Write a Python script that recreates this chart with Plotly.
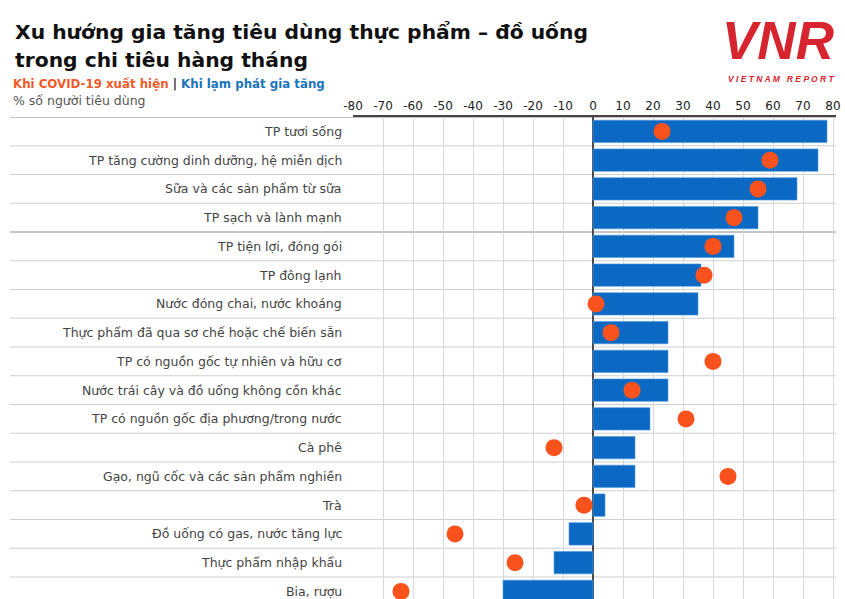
import plotly.graph_objects as go

categories = [
    "TP tươi sống",
    "TP tăng cường dinh dưỡng, hệ miễn dịch",
    "Sữa và các sản phẩm từ sữa",
    "TP sạch và lành mạnh",
    "TP tiện lợi, đóng gói",
    "TP đông lạnh",
    "Nước đóng chai, nước khoáng",
    "Thực phẩm đã qua sơ chế hoặc chế biến sẵn",
    "TP có nguồn gốc tự nhiên và hữu cơ",
    "Nước trái cây và đồ uống không cồn khác",
    "TP có nguồn gốc địa phương/trong nước",
    "Cà phê",
    "Gạo, ngũ cốc và các sản phẩm nghiền",
    "Trà",
    "Đồ uống có gas, nước tăng lực",
    "Thực phẩm nhập khẩu",
    "Bia, rượu",
]
inflation = [78, 75, 68, 55, 47, 36, 35, 25, 25, 25, 19, 14, 14, 4, -8, -13, -30]
covid = [23, 59, 55, 47, 40, 37, 1, 6, 40, 13, 31, -13, 45, -3, -46, -26, -64]
x_ticks = list(range(-80, 81, 10))

W, H = 845, 599
L, R, T, B = 353, 9, 117, 0
PW, PH = W - L - R, H - T - B


def px(x):
    return (x - L) / PW


def py(y):
    return 1 - (y - T) / PH


idx = list(range(len(categories)))
row_h = 28.75
n_vis = PH / row_h

BLUE = "#0b69c3"
ORANGE = "#f9521c"
FONT = "DejaVu Sans"

fig = go.Figure()
fig.add_trace(go.Bar(
    y=idx, x=inflation, orientation="h", width=0.78,
    marker=dict(color=BLUE, line=dict(color="#4d9be0", width=0.6)),
    name="Khi lạm phát gia tăng", hoverinfo="x+y",
))
fig.add_trace(go.Scatter(
    y=idx, x=covid, mode="markers",
    marker=dict(color=ORANGE, size=17, line=dict(width=0)),
    name="Khi COVID-19 xuất hiện",
))

shapes = []
dark_after = {3}
for i in range(len(categories)):
    yv = i - 0.5
    col = "#8a8a8a" if (i == 0 or (i - 1) in dark_after) else "#cfcfcf"
    shapes.append(dict(type="line", xref="paper", yref="y",
                       x0=px(10), x1=px(836), y0=yv, y1=yv,
                       line=dict(color=col, width=1), layer="below"))

annotations = [
    dict(text="<b>Xu hướng gia tăng tiêu dùng thực phẩm – đồ uống</b>",
         x=px(13), y=py(32), xref="paper", yref="paper",
         xanchor="left", yanchor="middle", showarrow=False,
         font=dict(family=FONT, size=20.3, color="#111111")),
    dict(text="<b>trong chi tiêu hàng tháng</b>",
         x=px(13), y=py(60), xref="paper", yref="paper",
         xanchor="left", yanchor="middle", showarrow=False,
         font=dict(family=FONT, size=20.3, color="#111111")),
    dict(text="<b><span style='color:#f05a28'>Khi COVID-19 xuất hiện</span>"
              " <span style='color:#333'>|</span> "
              "<span style='color:#1b75bc'>Khi lạm phát gia tăng</span></b>",
         x=px(11), y=py(84), xref="paper", yref="paper",
         xanchor="left", yanchor="middle", showarrow=False,
         font=dict(family=FONT, size=11.8)),
    dict(text="% số người tiêu dùng",
         x=px(11), y=py(101), xref="paper", yref="paper",
         xanchor="left", yanchor="middle", showarrow=False,
         font=dict(family=FONT, size=12.5, color="#555555")),
    dict(text="<b><i>VNR</i></b>",
         x=px(778), y=py(40), xref="paper", yref="paper",
         xanchor="center", yanchor="middle", showarrow=False,
         font=dict(family="Liberation Sans", size=53, color="#d6252f")),
    dict(text="<b><i>V I E T N A M   R E P O R T</i></b>",
         x=px(781), y=py(79), xref="paper", yref="paper",
         xanchor="center", yanchor="middle", showarrow=False,
         font=dict(family="Liberation Sans", size=8.5, color="#d6252f")),
]
for i, c in zip(idx, categories):
    annotations.append(dict(
        text=c, x=px(344), y=i, xref="paper", yref="y",
        xanchor="right", yanchor="middle", showarrow=False,
        font=dict(family=FONT, size=12.5, color="#444444")))

fig.update_layout(
    width=W, height=H,
    margin=dict(l=L, r=R, t=T, b=B, pad=0),
    paper_bgcolor="white", plot_bgcolor="white",
    showlegend=False,
    bargap=0.2,
    shapes=shapes,
    annotations=annotations,
    xaxis=dict(
        side="top", range=[-80, 81], tickvals=x_ticks,
        ticktext=[str(v) for v in x_ticks],
        showgrid=True, gridcolor="#d9d9d9", gridwidth=1,
        zeroline=True, zerolinecolor="#4a4a4a", zerolinewidth=1.5,
        showline=True, linecolor="#444444", linewidth=1.5,
        ticks="", ticklabelstandoff=0,
        tickfont=dict(family=FONT, size=12, color="#222222"),
        fixedrange=True,
    ),
    yaxis=dict(
        range=[-0.5 + n_vis, -0.5], tickvals=idx,
        showticklabels=False,
        showgrid=False, zeroline=False, showline=False, ticks="",
        fixedrange=True,
    ),
)

fig.write_html("out.html")
